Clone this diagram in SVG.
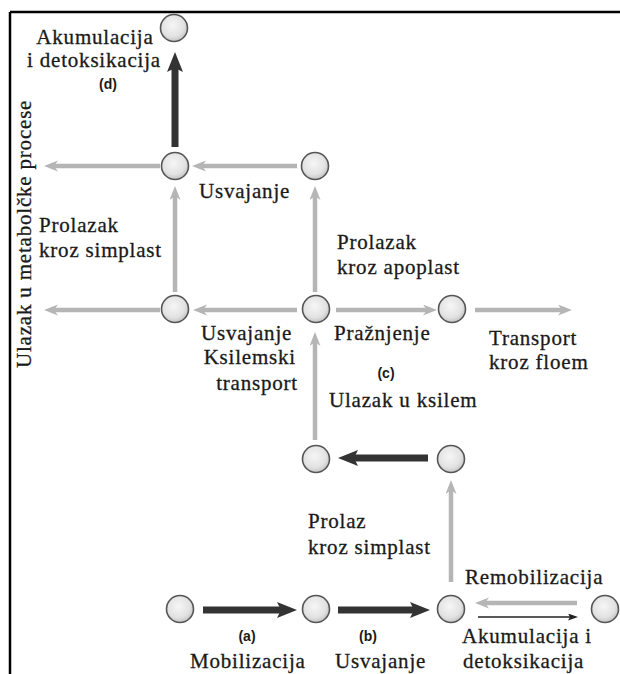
<svg xmlns="http://www.w3.org/2000/svg" width="620" height="674" viewBox="0 0 620 674">
<defs>
<radialGradient id="cg" cx="45%" cy="40%" r="60%">
<stop offset="0" stop-color="#f6f6f6"/>
<stop offset="0.7" stop-color="#e2e2e2"/>
<stop offset="1" stop-color="#c4c4c4"/>
</radialGradient>
<marker id="gh" markerUnits="userSpaceOnUse" markerWidth="16" markerHeight="12" refX="4" refY="5.5" orient="auto">
<path d="M0,0 L14,5.5 L0,11 L4,5.5 Z" fill="#b5b5b5"/>
</marker>
<marker id="dh" markerUnits="userSpaceOnUse" markerWidth="22" markerHeight="18" refX="4" refY="8" orient="auto">
<path d="M0,0 L20,8 L0,16 L4,8 Z" fill="#333"/>
</marker>
<marker id="th" markerUnits="userSpaceOnUse" markerWidth="12" markerHeight="8" refX="2" refY="3.5" orient="auto">
<path d="M0,0 L10,3.5 L0,7 L2,3.5 Z" fill="#222"/>
</marker>
</defs>
<style>
.n{fill:url(#cg);stroke:#555;stroke-width:1.6}
.g{stroke:#b5b5b5;stroke-width:4.5;fill:none;marker-end:url(#gh)}
.d{stroke:#333;stroke-width:7;fill:none;marker-end:url(#dh)}
.t{stroke:#222;stroke-width:1.5;fill:none;marker-end:url(#th)}
.s{font-family:'Liberation Serif',serif;font-size:21px;letter-spacing:0.8px;fill:#1a1a1a;stroke:#1a1a1a;stroke-width:0.3}
.l{font-family:'Liberation Sans',Arial,sans-serif;font-size:14px;font-weight:bold;fill:#1a1a1a}
.m{text-anchor:middle}
.e{text-anchor:end}
</style>
<rect width="620" height="674" fill="#fff"/>
<g id="frame">
<path d="M10,12 H620 M10,12 V674" stroke="#000" stroke-width="2.5" fill="none"/>
</g>
<g id="connectors">
<line class="g" x1="160" y1="166" x2="54" y2="166"/>
<line class="g" x1="297" y1="166" x2="202" y2="166"/>
<line class="g" x1="175" y1="292" x2="175" y2="196"/>
<line class="g" x1="315" y1="292" x2="315" y2="196"/>
<line class="g" x1="160" y1="310" x2="54" y2="310"/>
<line class="g" x1="297" y1="310" x2="203" y2="310"/>
<line class="g" x1="336" y1="310" x2="427" y2="310"/>
<line class="g" x1="475" y1="310" x2="562" y2="310"/>
<line class="g" x1="315" y1="440" x2="315" y2="342"/>
<line class="g" x1="451" y1="582" x2="451" y2="490"/>
<line class="g" x1="577" y1="603" x2="485" y2="603"/>
<line class="d" x1="175" y1="147" x2="175" y2="68"/>
<line class="d" x1="428" y1="458" x2="354" y2="458"/>
<line class="d" x1="203" y1="610" x2="281" y2="610"/>
<line class="d" x1="338" y1="610" x2="414" y2="610"/>
<line class="t" x1="478" y1="617" x2="570" y2="617"/>
</g>
<g id="n1"><circle class="n" cx="174" cy="28" r="13.5"/></g>
<g id="n2"><circle class="n" cx="175" cy="166" r="13.5"/></g>
<g id="n3"><circle class="n" cx="315" cy="166" r="13.5"/></g>
<g id="n4"><circle class="n" cx="175" cy="309" r="13.5"/></g>
<g id="n5"><circle class="n" cx="316" cy="309" r="13.5"/></g>
<g id="n6"><circle class="n" cx="452" cy="309" r="13.5"/></g>
<g id="n7"><circle class="n" cx="316" cy="459" r="13.5"/></g>
<g id="n8"><circle class="n" cx="451" cy="459" r="13.5"/></g>
<g id="n9"><circle class="n" cx="180" cy="609" r="13.5"/></g>
<g id="n10"><circle class="n" cx="316" cy="609" r="13.5"/></g>
<g id="n11"><circle class="n" cx="451" cy="609" r="13.5"/></g>
<g id="n12"><circle class="n" cx="605" cy="609" r="13.5"/></g>
<g id="labels">
<text class="s m" x="95" y="44">Akumulacija</text>
<text class="s m" x="94" y="67">i detoksikacija</text>
<text class="l m" x="108" y="89">(d)</text>
<text class="s" x="31" y="368" transform="rotate(-90 31 368)">Ulazak u metabolčke procese</text>
<text class="s" x="199" y="198">Usvajanje</text>
<text class="s" x="39" y="232">Prolazak</text>
<text class="s" x="39" y="257">kroz simplast</text>
<text class="s" x="337" y="249">Prolazak</text>
<text class="s" x="337" y="274">kroz apoplast</text>
<text class="s" x="201" y="340">Usvajanje</text>
<text class="s" x="334" y="340">Pražnjenje</text>
<text class="s" x="489" y="345">Transport</text>
<text class="s" x="489" y="369">kroz floem</text>
<text class="s e" x="296" y="364">Ksilemski</text>
<text class="s e" x="298" y="390">transport</text>
<text class="l m" x="386" y="378">(c)</text>
<text class="s" x="329" y="407">Ulazak u ksilem</text>
<text class="s" x="308" y="528">Prolaz</text>
<text class="s" x="308" y="554">kroz simplast</text>
<text class="s" x="465" y="584">Remobilizacija</text>
<text class="l m" x="247" y="641">(a)</text>
<text class="l m" x="368" y="641">(b)</text>
<text class="s" x="190" y="668">Mobilizacija</text>
<text class="s" x="335" y="668">Usvajanje</text>
<text class="s" x="462" y="643">Akumulacija i</text>
<text class="s" x="463" y="668">detoksikacija</text>
</g>
</svg>
